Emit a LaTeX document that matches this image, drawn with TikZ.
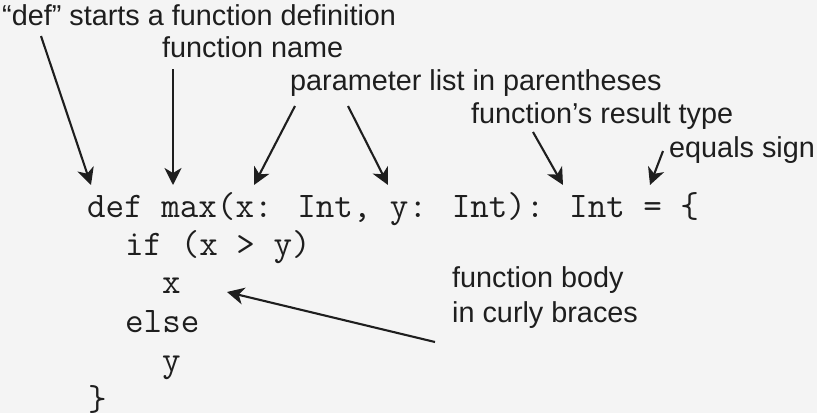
\documentclass[tikz,border=0pt]{standalone}
\usepackage{fontspec}
\setmainfont{Liberation Sans}
\usetikzlibrary{arrows.meta}
\definecolor{bg}{HTML}{F4F4F4}
\definecolor{ink}{HTML}{1E1E1E}
\begin{document}
\begin{tikzpicture}[x=1pt,y=-1pt,
  lbl/.style={anchor=base west,inner sep=0pt,text=ink,font=\fontsize{28.8}{35}\selectfont},
  code/.style={anchor=base west,inner sep=0pt,text=ink,font=\ttfamily\fontsize{36}{38}\selectfont},
  arr/.style={draw=ink,line width=2.1pt,-{Stealth[length=17pt,width=17pt,inset=5pt]}}]
\useasboundingbox[fill=bg] (0,0) rectangle (817,413);
% labels
\node[lbl] (l1) at (2,25) {“def” starts a function definition};
\node[lbl] (l2) at (162,57) {function name};
\node[lbl] (l3) at (290,90) {parameter list in parentheses};
\node[lbl] (l4) at (471,123) {function’s result type};
\node[lbl] (l5) at (669,157) {equals sign};
\node[lbl,align=left] (l6) at (452,322) {function body\\in curly braces};
% code
\node[code] (c1) at (87,217) {def max(x: Int, y: Int): Int = \{};
\node[code] (c2) at (125,255) {if (x > y)};
\node[code] (c3) at (162,293) {x};
\node[code] (c4) at (125,332) {else};
\node[code] (c5) at (162,371) {y};
\node[code] (c6) at (88,410) {\}};
% arrow ends
\coordinate (s1) at (41,36);   \coordinate (t1) at (91,185);
\coordinate (s2) at (173,69);  \coordinate (t2) at (173,185);
\coordinate (s3) at (295,106); \coordinate (t3) at (254,185);
\coordinate (s4) at (348,106); \coordinate (t4) at (388,185);
\coordinate (s5) at (533,132); \coordinate (t5) at (563,185);
\coordinate (s6) at (663,151); \coordinate (t6) at (650,185);
\coordinate (s7) at (435,342); \coordinate (t7) at (227,292);
\draw[arr] (s1) -- (t1);
\draw[arr] (s2) -- (t2);
\draw[arr] (s3) -- (t3);
\draw[arr] (s4) -- (t4);
\draw[arr] (s5) -- (t5);
\draw[arr] (s6) -- (t6);
\draw[arr] (s7) -- (t7);
\end{tikzpicture}
\end{document}
